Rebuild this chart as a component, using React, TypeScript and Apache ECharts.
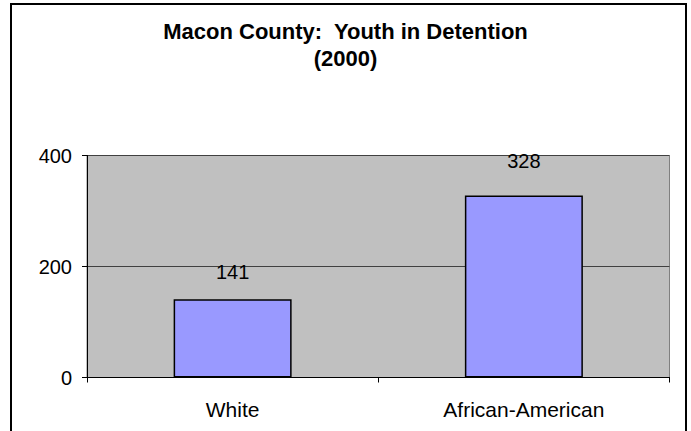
import React, { useEffect, useRef } from "react";
import * as echarts from "echarts";

const titleLines = ["Macon County:  Youth in Detention", "(2000)"];
const categories = ["White", "African-American"];
const values = [141, 328];
const yTicks = { min: 0, max: 400, interval: 200 };
const labelDistances = [17, 24];

export default function App() {
  const ref = useRef<HTMLDivElement>(null);
  useEffect(() => {
    document.body.style.margin = "0";
    if (!ref.current) return;
    const chart = echarts.init(ref.current, null, { renderer: "svg" });
    const font = "'Liberation Sans', Arial, sans-serif";
    chart.setOption({
      animation: false,
      backgroundColor: "#ffffff",
      title: {
        text: titleLines.join("\n"),
        left: "center",
        top: 13,
        textStyle: {
          fontFamily: font,
          fontSize: 22,
          fontWeight: "bold",
          color: "#000",
          lineHeight: 27,
        },
      },
      graphic: [
        {
          type: "rect",
          shape: { x: 11, y: 4, width: 675, height: 440 },
          style: { fill: "none", stroke: "#000", lineWidth: 2 },
          silent: true,
        },
      ],
      grid: {
        left: 87,
        top: 155.5,
        right: 21.5,
        bottom: 53.5,
        show: true,
        backgroundColor: "#c0c0c0",
        borderColor: "#808080",
        borderWidth: 1,
      },
      xAxis: {
        type: "category",
        data: categories,
        boundaryGap: true,
        axisLine: { show: true, lineStyle: { color: "#000", width: 1 } },
        axisTick: { show: true, alignWithLabel: false, length: 5, lineStyle: { color: "#000" } },
        axisLabel: { margin: 21, fontFamily: font, fontSize: 21, color: "#000" },
        splitLine: { show: false },
      },
      yAxis: {
        type: "value",
        min: yTicks.min,
        max: yTicks.max,
        interval: yTicks.interval,
        axisLine: { show: true, lineStyle: { color: "#000", width: 1 } },
        axisTick: { show: true, length: 5, lineStyle: { color: "#000" } },
        axisLabel: { margin: 15, fontFamily: font, fontSize: 20, color: "#000" },
        splitLine: { show: true, lineStyle: { color: "#404040", width: 1 } },
      },
      series: [
        {
          type: "bar",
          data: values.map((v, i) => ({
            value: v,
            label: { distance: labelDistances[i] },
          })),
          barWidth: 118,
          itemStyle: { color: "#9999ff", borderColor: "#000", borderWidth: 1.5 },
          label: {
            show: true,
            position: "top",
            fontFamily: font,
            fontSize: 20,
            color: "#000",
          },
        },
      ],
    });
    return () => chart.dispose();
  }, []);
  return <div ref={ref} style={{ width: 691, height: 431 }} />;
}
